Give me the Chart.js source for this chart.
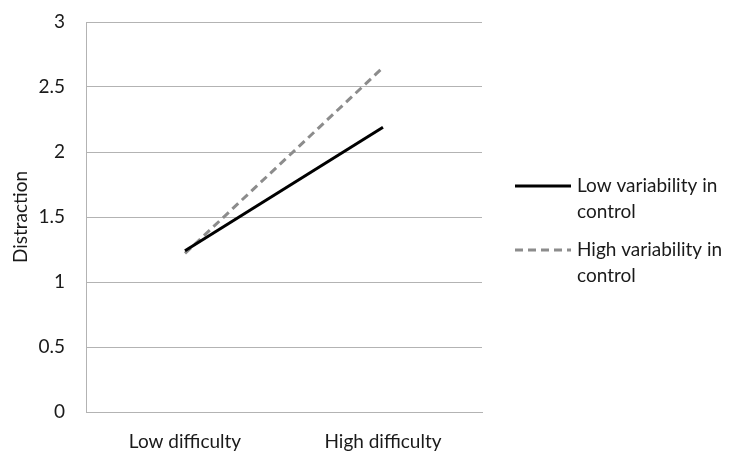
<!DOCTYPE html>
<html>
<head>
<meta charset="utf-8">
<script src="https://cdn.jsdelivr.net/npm/chart.js@4/dist/chart.umd.min.js"></script>
<style>
  html, body { margin: 0; padding: 0; background: #fff; }
  #wrap { width: 738px; height: 460px; position: relative; }
</style>
</head>
<body>
<div id="wrap"><canvas id="c"></canvas></div>
<script>
const categories = ["Low difficulty", "High difficulty"];
const lowVariability = [1.24, 2.19];
const highVariability = [1.22, 2.65];
const seriesLabels = [["Low variability in", "control"], ["High variability in", "control"]];
const yTicks = [0, 0.5, 1, 1.5, 2, 2.5, 3];

const FONT = "Lato, 'Open Sans', sans-serif";
const FS = 19;

const legendPlugin = {
  id: 'sideLegend',
  afterDraw(chart) {
    const ctx = chart.ctx;
    const ds = chart.data.datasets;
    const x0 = 515, x1 = 571, tx = 577;
    const starts = [186, 250];
    const lh = 25.5;
    ctx.save();
    ctx.font = FS + "px " + FONT;
    ctx.textBaseline = 'middle';
    ctx.fillStyle = '#1a1a1a';
    ds.forEach((d, i) => {
      const y = starts[i];
      ctx.beginPath();
      ctx.strokeStyle = d.borderColor;
      ctx.lineWidth = d.borderWidth;
      ctx.setLineDash(d.borderDash || []);
      ctx.moveTo(x0, y);
      ctx.lineTo(x1, y);
      ctx.stroke();
      ctx.setLineDash([]);
      const lines = Array.isArray(d.label) ? d.label : [d.label];
      lines.forEach((t, j) => ctx.fillText(t, tx, y + j * lh));
    });
    ctx.restore();
  }
};

new Chart(document.getElementById('c'), {
  type: 'line',
  data: {
    labels: categories,
    datasets: [
      {
        label: seriesLabels[0],
        data: lowVariability,
        borderColor: '#000000',
        backgroundColor: '#000000',
        borderWidth: 3,
        pointRadius: 0,
        tension: 0
      },
      {
        label: seriesLabels[1],
        data: highVariability,
        borderColor: '#8c8c8c',
        backgroundColor: '#8c8c8c',
        borderWidth: 3,
        borderDash: [8, 5],
        pointRadius: 0,
        tension: 0
      }
    ]
  },
  options: {
    responsive: true,
    maintainAspectRatio: false,
    animation: false,
    layout: { padding: { left: 0, right: 256, top: 22, bottom: 0 } },
    plugins: {
      legend: { display: false },
      tooltip: { enabled: false }
    },
    scales: {
      x: {
        offset: true,
        grid: { display: false, drawTicks: false },
        border: { display: true, color: '#b3b3b3', width: 1 },
        ticks: { color: '#1a1a1a', font: { family: FONT, size: FS }, padding: 18, maxRotation: 0 },
        afterFit(scale) { scale.height = 48; scale.paddingLeft = 0; scale.paddingRight = 0; }
      },
      y: {
        min: 0,
        max: 3,
        afterBuildTicks(scale) { scale.ticks = yTicks.map(v => ({ value: v })); },
        grid: { color: '#b3b3b3', lineWidth: 1, drawTicks: false },
        border: { display: true, color: '#b3b3b3', width: 1 },
        ticks: {
          color: '#1a1a1a',
          font: { family: FONT, size: FS },
          padding: 21,
          callback: (v) => String(v)
        },
        title: {
          display: true,
          text: 'Distraction',
          color: '#1a1a1a',
          font: { family: FONT, size: FS },
          padding: { top: 9, bottom: 0 }
        },
        afterFit(scale) { scale.width = 86; scale.paddingTop = 0; scale.paddingBottom = 0; }
      }
    }
  },
  plugins: [legendPlugin]
});
</script>
</body>
</html>
